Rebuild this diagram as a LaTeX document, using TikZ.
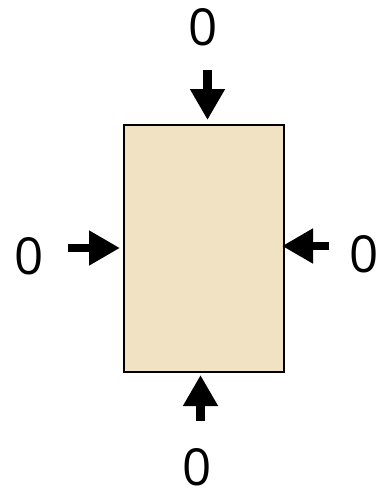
\documentclass[tikz,border=0pt]{standalone}
\usepackage{fontspec}
\setmainfont{Open Sans}
\usetikzlibrary{arrows.meta}
\definecolor{parch}{RGB}{240,226,194}
\begin{document}
\begin{tikzpicture}[x=1pt,y=-1pt,
  box/.style={draw=black,line width=1.4pt,fill=parch,minimum width=160pt,minimum height=247pt,inner sep=0pt},
  arr/.style={line width=8.5pt,-{Triangle[length=31pt,width=33pt]}},
  lab/.style={font=\fontsize{51}{58}\selectfont,inner sep=0pt}]
\useasboundingbox (0,0) rectangle (388,498);
\node[box] (box) at (204,248.5) {};
\coordinate (ts) at (207.5,70);  \coordinate (te) at (207.5,120);
\coordinate (ls) at (68,248);    \coordinate (le) at (120,248);
\coordinate (rs) at (329,246);   \coordinate (re) at (282,246);
\coordinate (bs) at (200.5,421); \coordinate (be) at (200.5,375);
\draw[arr] (ts) -- (te);
\draw[arr] (ls) -- (le);
\draw[arr] (rs) -- (re);
\draw[arr] (bs) -- (be);
\node[lab] (lt) at (203,27) {0};
\node[lab] (ll) at (29,256) {0};
\node[lab] (lr) at (364,254) {0};
\node[lab] (lb) at (197,467) {0};
\end{tikzpicture}
\end{document}
